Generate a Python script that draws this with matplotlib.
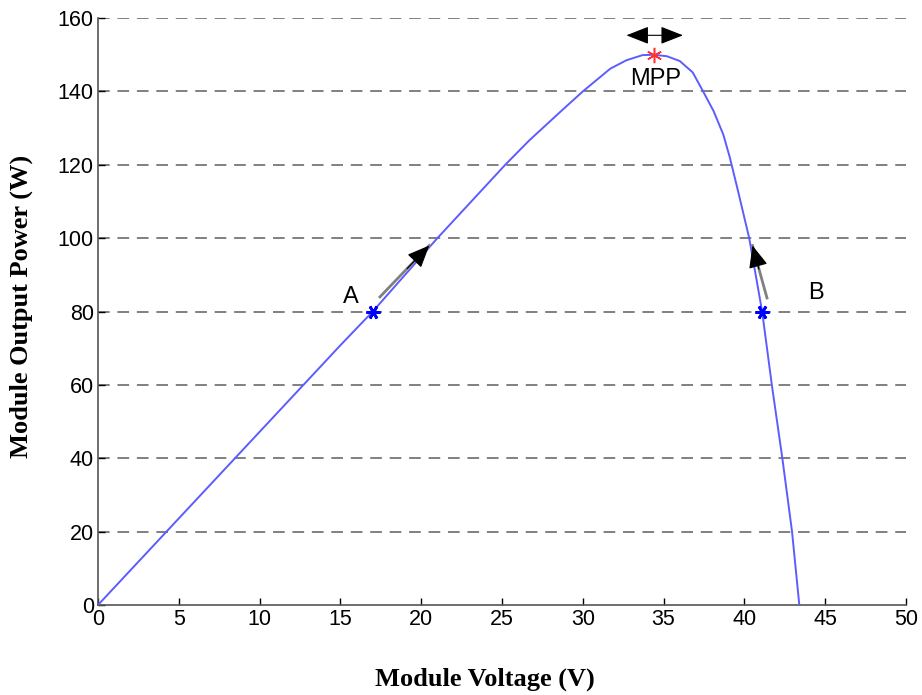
import numpy as np
import matplotlib
matplotlib.use('Agg')
import matplotlib.pyplot as plt

# P-V curve of the module
voltage = [0, 5, 10, 15, 17, 21, 25.2, 26.7, 28.6, 30.0, 31.7, 32.7, 33.7,
           34.4, 35.2, 36.0, 36.8, 37.35, 38.1, 38.7, 39.1, 39.6, 40.3,
           41.1, 41.7, 42.35, 42.95, 43.4]
power = [0, 23.6, 47.2, 70.8, 80, 100, 120, 126.7, 134.4, 140, 146.2, 148.5,
         149.9, 150, 149.6, 148.3, 145.2, 140.8, 134.6, 128.2, 122, 113, 100,
         80, 60, 40, 20, 0]

point_a = (17.0, 80.0)
point_b = (41.1, 80.0)
mpp = (34.4, 150.0)

xticks = list(range(0, 51, 5))
yticks = list(range(0, 161, 20))

fig = plt.figure(figsize=(9.22, 6.95), dpi=100)
ax = fig.add_axes([0.1063, 0.1295, 0.8763, 0.8445])

for y in yticks[1:]:
    ax.axhline(y, color="#808080", linewidth=1.4, linestyle=(0, (6, 4)), zorder=1)

ax.plot(voltage, power, color="#5c5cff", linewidth=1.4, zorder=3)

ax.plot(*point_a, marker=(6, 2, 90), color="blue", markersize=10, markeredgewidth=2.0, zorder=4)
ax.plot(*point_b, marker=(6, 2, 90), color="blue", markersize=10, markeredgewidth=2.0, zorder=4)
ax.plot(*mpp, marker=(6, 2, 0), color="#ff3030", markersize=11, markeredgewidth=1.1, zorder=4)

def arrow(x0, y0, x1, y1):
    ax.plot([x0, x1], [y0, y1], color="#808080", linewidth=2.0, zorder=5)
    ax.annotate("", xy=(x1, y1), xytext=(x0 + 0.55 * (x1 - x0), y0 + 0.55 * (y1 - y0)),
                arrowprops=dict(arrowstyle="-|>,head_length=1.4,head_width=0.6",
                                color="black", linewidth=0.8, shrinkA=0, shrinkB=0),
                zorder=6)

arrow(17.45, 84, 20.5, 98)
arrow(41.4, 83.7, 40.5, 98)

ax.annotate("", xy=(36.2, 155.3), xytext=(32.7, 155.3),
            arrowprops=dict(arrowstyle="<|-|>,head_length=1.4,head_width=0.55",
                            color="black", linewidth=0.8, shrinkA=0, shrinkB=0))

tfont = dict(family="Liberation Sans", fontsize=17)
ax.text(15.65, 84, "A", ha="center", va="center", **tfont)
ax.text(44.4, 85, "B", ha="center", va="center", **tfont)
ax.text(34.5, 143.5, "MPP", ha="center", va="center", **tfont)

ax.set_xlim(0, 50)
ax.set_ylim(0, 160)
ax.set_xticks(xticks)
ax.set_yticks(yticks)
ax.tick_params(direction="in", length=5, width=1, labelsize=15.5, colors="black", pad=3)
for lab in ax.get_xticklabels() + ax.get_yticklabels():
    lab.set_family("Liberation Sans")
for s in ["top", "right"]:
    ax.spines[s].set_visible(False)
for s in ["left", "bottom"]:
    ax.spines[s].set_color("#555555")
    ax.spines[s].set_linewidth(1.2)

ax.set_xlabel("Module Voltage (V)", family="Liberation Serif", fontweight="bold", fontsize=19)
ax.set_ylabel("Module Output Power (W)", family="Liberation Serif", fontweight="bold", fontsize=19)
ax.xaxis.set_label_coords(0.479, -0.107)
ax.yaxis.set_label_coords(-0.080, 0.509)

fig.savefig("out.png", dpi=100)
